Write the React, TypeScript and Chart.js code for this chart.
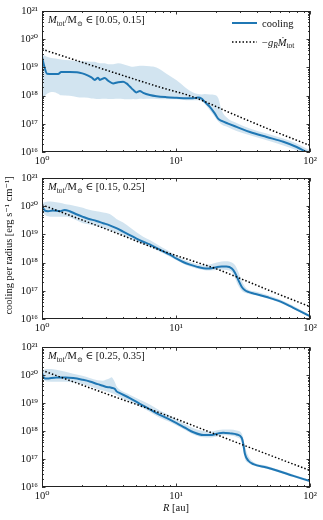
import React, { useEffect, useRef } from 'react';
import { Chart, registerables } from 'chart.js';

Chart.register(...registerables);

const SERIF = '"Liberation Serif", "DejaVu Serif", serif';
const BLUE = '#1f77b4';
const BAND = 'rgba(31,119,180,0.2)';

// ---------- tick / label data ----------
const xTickValues = [1, 10, 100];
const yTickValues = [1e16, 1e17, 1e18, 1e19, 1e20, 1e21];
const massRanges = ['[0.05, 0.15]', '[0.15, 0.25]', '[0.25, 0.35]'];
const seriesLabels = ['cooling', '−g_R Ṁ_tot'];
const yTitle = 'cooling per radius [erg s⁻¹ cm⁻¹]';
const xTitle = ['R', ' [au]'];

// ---------- panel 1 : M in [0.05, 0.15] ----------
const radius1 = [1.0, 1.035, 1.09, 1.21, 1.32, 1.39, 1.61, 1.81, 1.91, 2.08, 2.34, 2.48, 2.62, 2.7, 2.94, 3.11, 3.39, 3.7, 4.03, 4.27, 4.52, 4.79, 5.07, 5.37, 5.69, 6.37, 7.15, 8.49, 10.1, 12.0, 13.4, 14.6, 15.5, 16.4, 17.9, 19.5, 20.7, 21.9, 24.5, 28.3, 35.6, 47.5, 63.2, 79.5, 94.4, 100];
const cooling1 = [2.4e19, 1.2e19, 6.0e18, 5.8e18, 5.8e18, 6.9e18, 6.9e18, 6.7e18, 6.5e18, 5.8e18, 4.4e18, 3.6e18, 4.3e18, 3.6e18, 4.2e18, 3.4e18, 2.7e18, 3.0e18, 3.1e18, 2.7e18, 2.1e18, 1.6e18, 1.3e18, 1.45e18, 1.25e18, 1.05e18, 9.5e17, 8.8e17, 8.4e17, 8.1e17, 8.1e17, 8.5e17, 7.9e17, 6.0e17, 4.0e17, 2.3e17, 1.5e17, 1.26e17, 1.02e17, 7.8e16, 5.1e16, 3.4e16, 2.3e16, 1.5e16, 1.0e16, 8.7e15];
const bandHigh1 = [2.75e19, 2.7e19, 2.4e19, 2.1e19, 2.0e19, 1.9e19, 1.8e19, 1.7e19, 1.7e19, 1.65e19, 1.6e19, 1.6e19, 1.45e19, 1.4e19, 1.4e19, 1.3e19, 1.3e19, 1.4e19, 1.3e19, 1.2e19, 1.1e19, 1.05e19, 1.1e19, 1.15e19, 1.15e19, 1.1e19, 1.0e19, 6.0e18, 3.5e18, 1.8e18, 1.3e18, 1.15e18, 1.1e18, 1.15e18, 1.1e18, 1.05e18, 8.0e17, 3.0e17, 1.5e17, 1.07e17, 6.8e16, 4.5e16, 3.0e16, 2.0e16, 1.3e16, 1.15e16];
const bandLow1 = [7.9e17, 8.9e17, 1.17e18, 1.35e18, 1.17e18, 1.02e18, 9.8e17, 8.9e17, 8.5e17, 8.5e17, 7.9e17, 7.8e17, 7.6e17, 7.6e17, 7.7e17, 7.6e17, 7.6e17, 7.7e17, 7.6e17, 7.4e17, 7.4e17, 7.6e17, 7.4e17, 7.7e17, 7.6e17, 7.7e17, 7.6e17, 7.4e17, 7.4e17, 6.9e17, 6.9e17, 6.9e17, 6.4e17, 5.0e17, 3.0e17, 1.74e17, 1.2e17, 9.5e16, 7.6e16, 5.6e16, 3.9e16, 2.6e16, 1.7e16, 1.15e16, 8e15, 7.5e15];
const fitRadius1 = [1, 2.7, 7.57, 13.4, 26.7, 50, 100];
const fit1 = [4.4e19, 9.5e18, 2.0e18, 9.0e17, 2.2e17, 6.3e16, 1.7e16];

// ---------- panel 2 : M in [0.15, 0.25] ----------
const radius2 = [1.0, 1.047, 1.109, 1.208, 1.355, 1.476, 1.61, 1.805, 2.02, 2.21, 2.55, 2.86, 3.2, 3.59, 4.03, 4.52, 5.07, 5.69, 6.37, 7.15, 8.02, 9.0, 10.1, 11.3, 12.7, 14.2, 16.0, 17.9, 20.1, 21.9, 23.8, 26.1, 27.6, 29.2, 30.9, 32.7, 34.6, 36.7, 39.9, 47.5, 59.7, 75.0, 89.2, 100];
const cooling2 = [1.05e20, 7.1e19, 6.6e19, 7.1e19, 6.6e19, 7.4e19, 6.6e19, 5.2e19, 4.2e19, 3.6e19, 3.0e19, 2.5e19, 2.1e19, 1.66e19, 1.26e19, 9.5e18, 7.1e18, 5.5e18, 4.4e18, 3.3e18, 2.5e18, 1.9e18, 1.38e18, 1.05e18, 8.5e17, 7.2e17, 6.3e17, 6.2e17, 6.9e17, 7.2e17, 7.2e17, 6.2e17, 4.3e17, 2.4e17, 1.4e17, 1.05e17, 9.1e16, 8.3e16, 7.6e16, 6.0e16, 4.2e16, 2.5e16, 1.66e16, 1.26e16];
const bandHigh2 = [1.32e20, 1.38e20, 1.48e20, 1.45e20, 1.32e20, 1.2e20, 1.12e20, 1.0e20, 8.9e19, 7.6e19, 6.6e19, 6.0e19, 5.25e19, 3.55e19, 2.63e19, 1.78e19, 1.2e19, 8.3e18, 6.3e18, 4.6e18, 3.3e18, 2.45e18, 1.78e18, 1.32e18, 1.05e18, 8.9e17, 8.1e17, 8.5e17, 1.0e18, 1.1e18, 1.12e18, 1.0e18, 8.0e17, 4.6e17, 2.3e17, 1.4e17, 1.1e17, 9.8e16, 9.3e16, 7.2e16, 4.9e16, 2.95e16, 1.9e16, 1.41e16];
const bandLow2 = [6.6e19, 5.0e19, 4.4e19, 4.2e19, 4.2e19, 4.2e19, 4.0e19, 3.16e19, 2.5e19, 2.3e19, 2.0e19, 1.66e19, 1.41e19, 1.15e19, 9.1e18, 7.2e18, 5.6e18, 4.4e18, 3.55e18, 2.75e18, 2.14e18, 1.62e18, 1.2e18, 9.1e17, 7.2e17, 6.2e17, 5.5e17, 5.25e17, 5.5e17, 5.6e17, 5.5e17, 4.6e17, 2.8e17, 1.5e17, 1.0e17, 8.5e16, 7.9e16, 7.4e16, 6.9e16, 5.4e16, 3.8e16, 2.3e16, 1.5e16, 1.15e16];
const fitRadius2 = [1, 3.16, 7.57, 13.5, 20, 31.6, 56.2, 100];
const fit2 = [1.12e20, 1.41e19, 2.8e18, 1.12e18, 6.0e17, 2.5e17, 8.1e16, 2.75e16];

// ---------- panel 3 : M in [0.25, 0.35] ----------
const radius3 = [1.0, 1.04, 1.08, 1.28, 1.5, 1.71, 2.0, 2.27, 2.6, 2.85, 3.03, 3.2, 3.3, 3.5, 3.6, 3.81, 4.52, 5.37, 6.38, 7.57, 9.0, 10.1, 11.7, 13.5, 16.0, 17.9, 20.7, 22.5, 25.3, 28.4, 30.9, 31.8, 32.7, 34.7, 37.8, 47.5, 56.5, 75, 100];
const cooling3 = [1.2e20, 7.9e19, 7.6e19, 8.3e19, 8.3e19, 7.9e19, 6.9e19, 6.0e19, 4.8e19, 4.2e19, 3.8e19, 3.7e19, 3.55e19, 3.2e19, 2.65e19, 2.3e19, 1.51e19, 9.5e18, 6.0e18, 3.8e18, 2.6e18, 1.95e18, 1.32e18, 9.1e17, 7.2e17, 7.2e17, 8.3e17, 8.7e17, 8.3e17, 7.6e17, 5.8e17, 3.4e17, 1.51e17, 8.7e16, 6.6e16, 5.0e16, 3.9e16, 2.5e16, 1.62e16];
const bandHigh3 = [1.51e20, 1.58e20, 1.66e20, 1.58e20, 1.32e20, 1.12e20, 9.5e19, 7.9e19, 6.6e19, 6.4e19, 7.0e19, 7.8e19, 8.5e19, 5.6e19, 4.0e19, 3.0e19, 2.0e19, 1.32e19, 8.9e18, 5.5e18, 3.6e18, 2.6e18, 1.78e18, 1.26e18, 1.0e18, 9.5e17, 1.1e18, 1.15e18, 1.15e18, 1.05e18, 8.3e17, 5.6e17, 2.8e17, 1.26e17, 7.9e16, 5.8e16, 4.4e16, 2.8e16, 1.82e16];
const bandLow3 = [9.1e19, 6.6e19, 6.0e19, 5.8e19, 5.8e19, 5.5e19, 4.8e19, 4.0e19, 3.16e19, 2.85e19, 2.63e19, 2.4e19, 2.3e19, 2.1e19, 1.91e19, 1.66e19, 1.15e19, 7.6e18, 4.8e18, 3.0e18, 2.1e18, 1.58e18, 1.1e18, 7.6e17, 6.0e17, 5.9e17, 6.6e17, 7.1e17, 6.9e17, 6.0e17, 4.0e17, 2.0e17, 1.0e17, 7.2e16, 5.9e16, 4.5e16, 3.55e16, 2.3e16, 1.48e16];
const fitRadius3 = [1, 3.16, 7.57, 31.6, 100];
const fit3 = [1.5e20, 2.0e19, 4.5e18, 3.2e17, 3.9e16];

// ---------- helpers ----------
const SUP: Record<string, string> = { '0': '⁰', '1': '¹', '2': '²', '3': '³', '4': '⁴', '5': '⁵', '6': '⁶', '7': '⁷', '8': '⁸', '9': '⁹', '-': '⁻' };
const powLabel = (v: number) => '10' + String(Math.round(Math.log10(v))).split('').map((c) => SUP[c] || c).join('');
const F = (size: number, italic = false) => `${italic ? 'italic ' : ''}${size}px ${SERIF}`;

type Part = [string, string, number];
function richWidth(ctx: CanvasRenderingContext2D, parts: Part[]) {
  let w = 0;
  for (const [t, f] of parts) { ctx.font = f; w += ctx.measureText(t).width; }
  return w;
}
function drawRich(ctx: CanvasRenderingContext2D, x: number, y: number, parts: Part[]) {
  for (const [t, f, dy] of parts) {
    ctx.font = f;
    ctx.fillText(t, x, y + dy);
    x += ctx.measureText(t).width;
  }
  return x;
}

const xMinor: number[] = [];
for (let d = 1; d < 100; d *= 10) for (let k = 2; k <= 9; k++) xMinor.push(d * k);
const yMinor: number[] = [];
for (let d = 1e16; d < 1e21; d *= 10) for (let k = 2; k <= 9; k++) yMinor.push(d * k);

const decorPlugin = {
  id: 'decor',
  afterDraw(chart: any, _args: any, opts: any) {
    const { ctx, chartArea: a, scales } = chart;
    const xs = scales.x, ys = scales.y;
    ctx.save();
    ctx.strokeStyle = '#222';
    ctx.lineWidth = 0.9;
    ctx.beginPath();
    const vt = (v: number, len: number) => {
      const px = Math.round(xs.getPixelForValue(v)) + 0.5;
      ctx.moveTo(px, a.bottom); ctx.lineTo(px, a.bottom - len);
      ctx.moveTo(px, a.top); ctx.lineTo(px, a.top + len);
    };
    const ht = (v: number, len: number) => {
      const py = Math.round(ys.getPixelForValue(v)) + 0.5;
      ctx.moveTo(a.left, py); ctx.lineTo(a.left + len, py);
      ctx.moveTo(a.right, py); ctx.lineTo(a.right - len, py);
    };
    xTickValues.forEach((v) => vt(v, 3.5));
    xMinor.forEach((v) => vt(v, 2));
    yTickValues.forEach((v) => ht(v, 3.5));
    yMinor.forEach((v) => ht(v, 2));
    ctx.stroke();
    ctx.lineWidth = 1;
    ctx.strokeRect(Math.round(a.left) + 0.5, Math.round(a.top) + 0.5, Math.round(a.right - a.left) - 1, Math.round(a.bottom - a.top) - 1);

    ctx.fillStyle = '#111';
    ctx.textBaseline = 'alphabetic';
    ctx.textAlign = 'left';
    // panel annotation
    drawRich(ctx, a.left + 6, a.top + 12, [
      ['M', F(10.5, true), 0],
      ['tot', F(7.5), 2.5],
      ['/M', F(10.5), 0],
      ['⊙', F(7), 2.5],
      [' ∈ ' + opts.range, F(10.5), 0],
    ]);

    if (opts.legend) {
      const x0 = a.right - 78, x1 = a.right - 53, tx = a.right - 48;
      const y1 = a.top + 12, y2 = a.top + 31;
      ctx.strokeStyle = BLUE; ctx.lineWidth = 2; ctx.setLineDash([]);
      ctx.beginPath(); ctx.moveTo(x0, y1); ctx.lineTo(x1, y1); ctx.stroke();
      ctx.strokeStyle = '#000'; ctx.lineWidth = 1.5; ctx.setLineDash([1.5, 2]);
      ctx.beginPath(); ctx.moveTo(x0, y2); ctx.lineTo(x1, y2); ctx.stroke();
      ctx.setLineDash([]);
      drawRich(ctx, tx, y1 + 3.5, [[seriesLabels[0], F(10.5), 0]]);
      drawRich(ctx, tx, y2 + 3.5, [
        ['−', F(10.5), 0],
        ['g', F(10.5, true), 0],
        ['R', F(7.5, true), 2.5],
        ['Ṁ', F(10.5, true), 0],
        ['tot', F(7.5), 2.5],
      ]);
    }

    if (opts.yTitle) {
      ctx.save();
      ctx.translate(9, opts.yTitleY);
      ctx.rotate(-Math.PI / 2);
      ctx.textAlign = 'center';
      ctx.textBaseline = 'middle';
      ctx.font = F(10.5);
      ctx.fillText(yTitle, 0, 0);
      ctx.restore();
    }

    if (opts.xTitle) {
      const parts: Part[] = [[xTitle[0], F(10.5, true), 0], [xTitle[1], F(10.5), 0]];
      const w = richWidth(ctx, parts);
      const cx = (a.left + a.right) / 2;
      drawRich(ctx, cx - w / 2, opts.xTitleY, parts);
    }
    ctx.restore();
  },
};

type PanelCfg = {
  top: number; height: number; padTop: number; axisH: number;
  radius: number[]; cooling: number[]; high: number[]; low: number[];
  fitR: number[]; fit: number[]; range: string;
  legend?: boolean; yTitle?: boolean; xTitle?: boolean;
};

const panels: PanelCfg[] = [
  { top: 0, height: 165, padTop: 11, axisH: 13, radius: radius1, cooling: cooling1, high: bandHigh1, low: bandLow1, fitR: fitRadius1, fit: fit1, range: massRanges[0], legend: true },
  { top: 165, height: 172, padTop: 13, axisH: 18, radius: radius2, cooling: cooling2, high: bandHigh2, low: bandLow2, fitR: fitRadius2, fit: fit2, range: massRanges[1], yTitle: true },
  { top: 337, height: 183, padTop: 8, axisH: 33, radius: radius3, cooling: cooling3, high: bandHigh3, low: bandLow3, fitR: fitRadius3, fit: fit3, range: massRanges[2], xTitle: true },
];

const pts = (xs: number[], ys: number[]) => xs.map((x, i) => ({ x, y: ys[i] }));

function Panel({ cfg }: { cfg: PanelCfg }) {
  const ref = useRef<HTMLCanvasElement>(null);
  useEffect(() => {
    const tickFont = { family: SERIF, size: 10.5 };
    const chart = new Chart(ref.current as HTMLCanvasElement, {
      type: 'line',
      data: {
        datasets: [
          { label: seriesLabels[1], data: pts(cfg.fitR, cfg.fit), borderColor: '#000', borderWidth: 1.5, borderDash: [1.5, 2], pointRadius: 0, fill: false, cubicInterpolationMode: 'monotone' },
          { label: seriesLabels[0], data: pts(cfg.radius, cfg.cooling), borderColor: BLUE, borderWidth: 2, pointRadius: 0, fill: false, cubicInterpolationMode: 'monotone', borderJoinStyle: 'round' },
          { label: 'band high', data: pts(cfg.radius, cfg.high), borderWidth: 0, borderColor: 'rgba(0,0,0,0)', backgroundColor: BAND, pointRadius: 0, fill: '+1', cubicInterpolationMode: 'monotone' },
          { label: 'band low', data: pts(cfg.radius, cfg.low), borderWidth: 0, borderColor: 'rgba(0,0,0,0)', pointRadius: 0, fill: false, cubicInterpolationMode: 'monotone' },
        ] as any,
      },
      options: {
        responsive: false,
        animation: false,
        devicePixelRatio: 1,
        events: [],
        layout: { padding: { left: 0, right: 13, top: cfg.padTop, bottom: 0 } },
        plugins: {
          legend: { display: false },
          tooltip: { enabled: false },
          decor: {
            range: cfg.range, legend: !!cfg.legend, yTitle: !!cfg.yTitle, xTitle: !!cfg.xTitle,
            yTitleY: 245.5 - cfg.top, xTitleY: 511 - cfg.top,
          },
        } as any,
        scales: {
          x: {
            type: 'logarithmic', min: 1, max: 100,
            grid: { display: false, drawTicks: false }, border: { display: false },
            afterBuildTicks: (s: any) => { s.ticks = xTickValues.map((v) => ({ value: v })); },
            afterFit: (s: any) => { s.height = cfg.axisH; },
            ticks: { autoSkip: false, maxRotation: 0, padding: 3, color: '#111', font: tickFont, callback: (v: any) => powLabel(Number(v)) },
          },
          y: {
            type: 'logarithmic', min: 1e16, max: 1e21,
            grid: { display: false, drawTicks: false }, border: { display: false },
            afterBuildTicks: (s: any) => { s.ticks = yTickValues.map((v) => ({ value: v })); },
            afterFit: (s: any) => { s.width = 42; },
            ticks: { autoSkip: false, padding: 4, color: '#111', font: tickFont, callback: (v: any) => powLabel(Number(v)) },
          },
        } as any,
      },
      plugins: [decorPlugin],
    });
    return () => chart.destroy();
  }, []);
  return (
    <canvas
      ref={ref}
      width={323}
      height={cfg.height}
      style={{ position: 'absolute', left: 0, top: cfg.top, width: 323, height: cfg.height, display: 'block' }}
    />
  );
}

export default function App() {
  return (
    <div style={{ position: 'absolute', left: 0, top: 0, width: 323, height: 520, background: '#fff', overflow: 'hidden' }}>
      {panels.map((p, i) => (
        <Panel key={i} cfg={p} />
      ))}
    </div>
  );
}
